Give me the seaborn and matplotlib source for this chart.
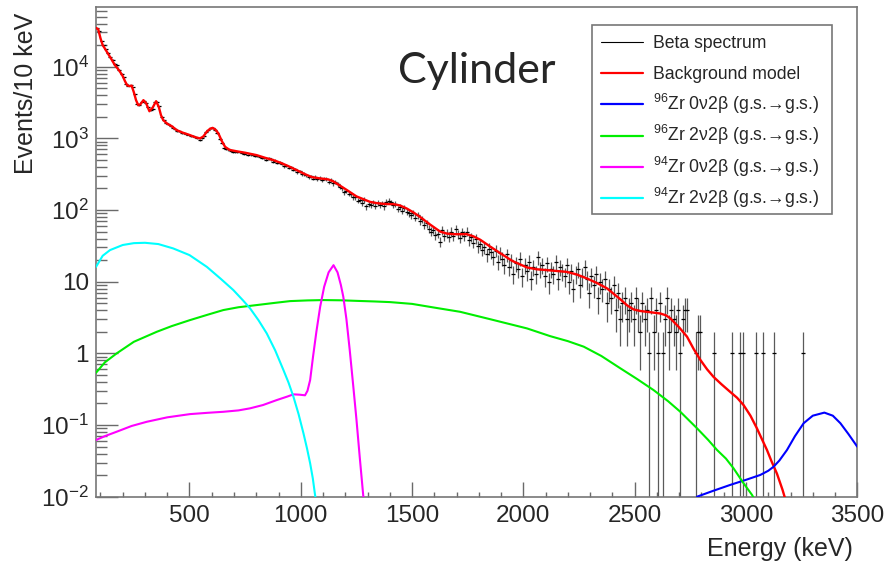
import numpy as np
import pandas as pd
import matplotlib
matplotlib.use('Agg')
import matplotlib.pyplot as plt
import seaborn as sns
from matplotlib.ticker import FixedLocator, FixedFormatter, NullFormatter, MultipleLocator, LogLocator
from matplotlib.lines import Line2D
from matplotlib.patches import Rectangle

sns.set_style('white')
plt.rcParams['font.family'] = ['Liberation Sans', 'DejaVu Sans']
plt.rcParams['mathtext.fontset'] = 'custom'
plt.rcParams['mathtext.rm'] = 'Liberation Sans'
plt.rcParams['mathtext.it'] = 'Liberation Sans:italic'
plt.rcParams['mathtext.bf'] = 'Liberation Sans:bold'
plt.rcParams['mathtext.default'] = 'regular'

# ---------------- data ----------------
bin_start = 85       # first bin centre (keV), bins 10 keV wide
counts = [
    34500, 31500, 23000, 20200, 17400, 15700, 13600, 12500, 11000, 10400,
    9100, 8000, 7100, 5800, 5450, 5550, 5200, 4150, 3050, 2900,
    3250, 3350, 3100, 2700, 2450, 2600, 3200, 3250, 2800, 2000,
    1780, 1640, 1600, 1480, 1410, 1350, 1280, 1260, 1200, 1190,
    1140, 1130, 1080, 1070, 1030, 1020, 960, 1020, 1090, 1230,
    1300, 1390, 1410, 1320, 1190, 990, 860, 740, 720, 700,
    670, 650, 660, 640, 640, 630, 610, 615, 590, 600,
    585, 570, 570, 550, 530, 535, 505, 525, 510, 470,
    490, 455, 460, 440, 410, 415, 390, 395, 365, 370,
    340, 345, 315, 320, 305, 290, 295, 275, 290, 270,
    280, 262, 275, 270, 250, 262, 235, 248, 228, 210,
    200, 178, 185, 168, 165, 150, 152, 135, 140, 125,
    138, 112, 120, 118, 128, 115, 125, 117, 124, 112,
    130, 135, 128, 118, 122, 104, 110, 98, 108, 95,
    90, 84, 92, 78, 85, 70, 74, 62, 65, 55,
    50, 53, 45, 47, 36, 52, 44, 48, 42, 50,
    43, 55, 46, 41, 49, 44, 50, 38, 42, 35,
    40, 31, 34, 28, 30, 24, 29, 26, 22, 27,
    19, 25, 21, 17, 24, 16, 20, 13, 18, 15,
    21, 12, 17, 14, 19, 11, 16, 13, 22, 15,
    17, 12, 18, 10, 15, 13, 19, 11, 16, 14,
    12, 17, 10, 14, 8, 13, 15, 9, 12, 16,
    11, 7, 12, 9, 13, 6, 10, 8, 11, 5,
    8, 6, 9, 4, 7, 3, 5, 6, 3, 4,
    5, 3, 6, 4, 2, 5, 3, 4, 1, 6,
    2, 4, 1, 5, 1, 3, 6, 2, 4, 3,
    2, 4, 1, 3, 4, 4, 0, 0, 0, 1,
    2, 2, 0, 0, 0, 0, 0, 1, 0, 0,
    0, 0, 0, 0, 0, 1, 0, 0, 0, 1,
    1, 0, 0, 0, 0, 0, 1, 0, 0, 1,
    0, 0, 0, 0, 1, 0, 0, 0, 0, 0,
    0, 0, 0, 0, 0, 0, 0, 1, 0, 0,
]

bkg_E = [80, 90, 100, 110, 120, 135, 150, 165, 180, 190, 200, 210, 220, 230, 240,
         250, 260, 270, 280, 293, 305, 320, 335, 350, 362, 372, 382, 400, 420, 443,
         470, 502, 525, 547, 562, 577, 592, 604, 617, 630, 645, 660, 680, 712, 750,
         802, 840, 877, 910, 944, 982, 1020, 1050, 1087, 1105, 1124, 1145, 1170, 1207,
         1250, 1311, 1340, 1370, 1395, 1416, 1445, 1476, 1505, 1536, 1580, 1626, 1655,
         1686, 1716, 1746, 1775, 1806, 1850, 1896, 1950, 2016, 2060, 2106, 2150, 2195,
         2240, 2285, 2330, 2375, 2405, 2435, 2465, 2495, 2525, 2570, 2615, 2640, 2660,
         2700, 2735, 2765, 2795, 2825, 2854, 2890, 2929, 2960, 2989, 3020, 3049, 3070,
         3094, 3115, 3139, 3164, 3180]
bkg_V = [34800, 33300, 25000, 20000, 17900, 15000, 12600, 10500, 9200, 8300, 7400, 6300, 5500, 5350, 5450,
         4400, 3400, 2900, 3000, 3410, 3100, 2390, 2700, 3300, 2750, 2100, 1800, 1600, 1480, 1300,
         1200, 1110, 1040, 998, 1060, 1230, 1360, 1400, 1320, 1170, 920, 761, 690, 660, 630,
         583, 535, 497, 455, 410, 360, 315, 288, 276, 272, 267, 252, 225, 190,
         155, 130, 125, 122, 121, 121, 116, 105, 93, 80, 63, 50, 47,
         46, 46, 46, 43, 38.5, 31, 25, 19.5, 15.8, 14.9, 14.5, 14.1, 13.7,
         12.6, 11.1, 9.6, 8.1, 6.8, 5.7, 4.7, 4.1, 3.9, 3.75, 3.6, 3.4, 3.08,
         2.3, 1.71, 1.15, 0.81, 0.6, 0.47, 0.37, 0.29, 0.24, 0.19, 0.135, 0.09, 0.065,
         0.045, 0.031, 0.021, 0.0125, 0.0085]

zr96_0v_E = [2780, 2850, 2929, 3000, 3064, 3100, 3124, 3150, 3184, 3220, 3259, 3300, 3352, 3390, 3424, 3460, 3500]
zr96_0v_V = [0.01, 0.012, 0.0146, 0.0172, 0.0201, 0.023, 0.0262, 0.032, 0.0448, 0.07, 0.106, 0.135, 0.149, 0.135, 0.106, 0.075, 0.0498]

zr96_2v_E = [80, 120, 173, 250, 353, 420, 502, 580, 652, 720, 802, 880, 952, 1030, 1102, 1180, 1252, 1330,
             1401, 1500, 1600, 1716, 1850, 2016, 2120, 2200, 2271, 2350, 2435, 2510, 2585, 2650, 2705,
             2780, 2830, 2870, 2910, 2944, 2989, 3027, 3040]
zr96_2v_V = [0.536, 0.75, 1.0, 1.45, 2.0, 2.4, 2.91, 3.45, 4.02, 4.4, 4.72, 5.05, 5.36, 5.48, 5.54, 5.5, 5.4, 5.3,
             5.19, 4.9, 4.35, 3.8, 3.0, 2.23, 1.74, 1.48, 1.24, 0.92, 0.62, 0.44, 0.307, 0.215, 0.153,
             0.09, 0.062, 0.0448, 0.034, 0.0249, 0.0154, 0.0106, 0.009]

zr94_0v_E = [80, 120, 173, 240, 308, 400, 502, 580, 652, 720, 772, 830, 892, 940, 967, 995, 1019, 1030,
             1042, 1055, 1070, 1087, 1105, 1125, 1147, 1165, 1180, 1191, 1205, 1220, 1236, 1250, 1265, 1281, 1285]
zr94_0v_V = [0.0618, 0.07, 0.0807, 0.097, 0.111, 0.128, 0.142, 0.148, 0.153, 0.16, 0.171, 0.19, 0.223, 0.25, 0.268,
             0.265, 0.26, 0.30, 0.425, 0.9, 2.0, 4.47, 8.5, 13.5, 17.0, 13.5, 9.0, 6.15, 3.0, 1.1, 0.342,
             0.12, 0.035, 0.01, 0.008]

zr94_2v_E = [80, 110, 143, 200, 250, 300, 360, 427, 500, 578, 640, 697, 740, 772, 810, 847, 885, 922, 945,
             967, 990, 1012, 1028, 1042, 1054, 1064, 1068]
zr94_2v_V = [16.1, 23, 27.6, 32.5, 34.5, 34.9, 33.5, 29.1, 23.5, 16.1, 11, 7.64, 5.5, 4.25, 2.9, 1.9, 1.1,
             0.585, 0.39, 0.248, 0.142, 0.0766, 0.047, 0.0292, 0.018, 0.0106, 0.009]

legend_labels = ['Beta spectrum', 'Background model',
                 r'$^{96}$Zr 0ν2β (g.s.→g.s.)', r'$^{96}$Zr 2ν2β (g.s.→g.s.)',
                 r'$^{94}$Zr 0ν2β (g.s.→g.s.)', r'$^{94}$Zr 2ν2β (g.s.→g.s.)']
legend_colors = ['black', '#ff0000', '#0000ff', '#00ee00', '#ff00ff', '#00ffff']
x_ticks = [500, 1000, 1500, 2000, 2500, 3000, 3500]
y_ticks = [1e-2, 1e-1, 1, 10, 1e2, 1e3, 1e4]
y_tick_labels = [r'$10^{-2}$', r'$10^{-1}$', '1', '10', r'$10^{2}$', r'$10^{3}$', r'$10^{4}$']

# ---------------- figure ----------------
W, H = 889, 564
fig = plt.figure(figsize=(W / 100, H / 100), dpi=100)
ax = fig.add_axes([96 / W, 1 - 496.7 / H, 761.3 / W, 490 / H])
ax.set_yscale('log')
ax.set_xlim(80, 3500)
ax.set_ylim(0.01, 6.87e4)

# data points
cnt = np.array(counts, dtype=float)
energy = bin_start + 10 * np.arange(len(cnt))
m = cnt > 0
df = pd.DataFrame({'E': energy[m], 'N': cnt[m]})
err_hi = np.sqrt(df['N'].values)
err_lo = np.minimum(err_hi, df['N'].values * 0.999999)
ax.errorbar(df['E'], df['N'], yerr=[err_lo, err_hi], fmt='none', ecolor='#5a5a5a',
            elinewidth=0.9, zorder=2)
sns.scatterplot(data=df, x='E', y='N', ax=ax, marker='_', s=9, color='black',
                linewidth=0.9, zorder=3, legend=False)

curves = [
    (bkg_E, bkg_V, legend_colors[1], 1.7),
    (zr96_0v_E, zr96_0v_V, legend_colors[2], 1.5),
    (zr96_2v_E, zr96_2v_V, legend_colors[3], 1.5),
    (zr94_0v_E, zr94_0v_V, legend_colors[4], 1.5),
    (zr94_2v_E, zr94_2v_V, legend_colors[5], 1.5),
]
for xs, ys, col, lw in curves:
    cdf = pd.DataFrame({'E': xs, 'V': ys})
    sns.lineplot(data=cdf, x='E', y='V', ax=ax, color=col, linewidth=lw,
                 estimator=None, sort=False, legend=False, zorder=4)

ax.set_xlim(80, 3500)
ax.set_ylim(0.01, 6.87e4)
ax.set_xlabel('')
ax.set_ylabel('')

# ticks
ax.xaxis.set_major_locator(FixedLocator(x_ticks))
ax.xaxis.set_minor_locator(MultipleLocator(100))
ax.yaxis.set_major_locator(FixedLocator(y_ticks))
ax.yaxis.set_major_formatter(FixedFormatter(y_tick_labels))
ax.yaxis.set_minor_locator(LogLocator(base=10, subs=np.arange(2, 10), numticks=20))
ax.yaxis.set_minor_formatter(NullFormatter())
tc = '#6a6a6a'
ax.tick_params(axis='x', which='major', direction='in', length=10.8, width=1.0, color=tc,
               pad=6, labelsize=17.5, top=False, bottom=True)
ax.tick_params(axis='x', which='minor', direction='in', length=3.3, width=1.0, color=tc,
               top=False, bottom=True)
ax.tick_params(axis='y', which='major', direction='in', length=15.8, width=1.0, color=tc,
               pad=5, labelsize=17.5, right=False, left=True)
ax.tick_params(axis='y', which='minor', direction='in', length=7.9, width=1.0, color=tc,
               right=False, left=True)
for s in ax.spines.values():
    s.set_color('#777777')
    s.set_linewidth(1.2)

# labels
fig.text(26 / W, 1 - 13 / H, 'Events/10 keV', rotation=90, ha='center', va='top', fontsize=18)
fig.text(853 / W, 1 - 556 / H, 'Energy (keV)', ha='right', va='baseline', fontsize=18)
fig.text(398 / W, 1 - 83 / H, 'Cylinder', fontsize=31, family=['Lato', 'DejaVu Sans'],
         va='baseline', ha='left')

# legend (ROOT-style box, drawn in figure pixels)
def fx(px):
    return px / W

def fy(py):
    return 1 - py / H

box = Rectangle((fx(591.7), fy(214)), fx(831.7) - fx(591.7), fy(25) - fy(214),
                transform=fig.transFigure, facecolor='white', edgecolor='#777777',
                linewidth=1.2, zorder=20)
fig.add_artist(box)
row0, dy = 41.7, 31.3
for i, (lab, col) in enumerate(zip(legend_labels, legend_colors)):
    yrow = row0 + i * dy
    lw = 0.8 if i == 0 else 1.6
    fig.add_artist(Line2D([fx(600.7), fx(643.3)], [fy(yrow), fy(yrow)], color=col, lw=lw,
                          transform=fig.transFigure, zorder=21))
    fig.text(fx(652.7), fy(yrow + 5.8), lab, fontsize=12.7, ha='left', va='baseline', zorder=22)

fig.savefig('out.png', dpi=100)
